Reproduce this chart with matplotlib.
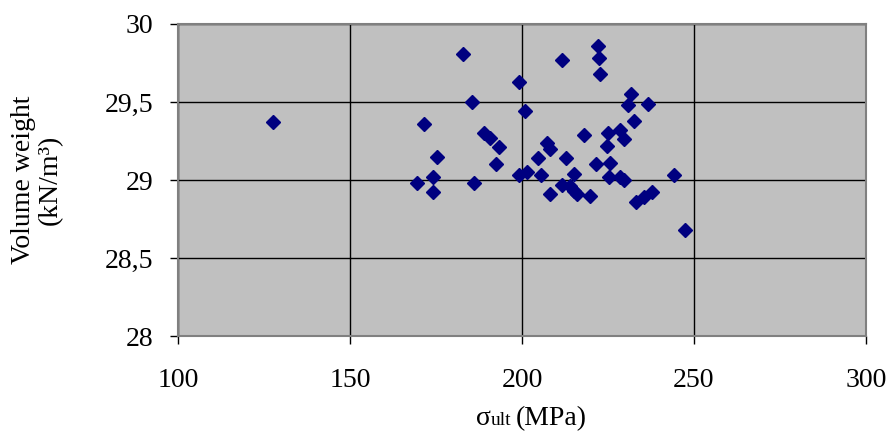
import matplotlib
matplotlib.use("Agg")
import matplotlib.pyplot as plt

# ultimate strength (MPa) vs volume weight (kN/m3)
sigma_ult = [127.6, 182.8, 199.0, 185.5, 200.8, 171.4, 188.9, 190.8, 193.4, 175.3,
             192.3, 174.1, 169.5, 174.0, 186.1, 199.0, 201.5, 211.7, 222.1, 222.5,
             222.8, 231.7, 230.8, 236.6, 232.5, 218.0, 225.0, 228.5, 229.6, 224.6,
             207.3, 208.1, 204.6, 212.9, 221.4, 225.5, 215.1, 205.4, 225.2, 228.6,
             229.6, 244.2, 211.6, 214.1, 215.0, 216.0, 208.1, 219.9, 233.0, 235.4,
             237.9, 247.3]
vol_weight = [29.37, 29.81, 29.63, 29.50, 29.44, 29.36, 29.30, 29.27, 29.21, 29.15,
              29.10, 29.02, 28.98, 28.92, 28.98, 29.03, 29.05, 29.77, 29.86, 29.78,
              29.68, 29.55, 29.48, 29.49, 29.38, 29.29, 29.30, 29.32, 29.26, 29.22,
              29.24, 29.20, 29.14, 29.14, 29.10, 29.11, 29.04, 29.03, 29.02, 29.02,
              29.00, 29.03, 28.97, 28.96, 28.93, 28.91, 28.91, 28.90, 28.86, 28.89,
              28.92, 28.68]

x_ticks = [100, 150, 200, 250, 300]
y_ticks = [28, 28.5, 29, 29.5, 30]
y_labels = ["28", "28,5", "29", "29,5", "30"]

plt.rcParams['font.family'] = ['Liberation Serif', 'DejaVu Serif']

fig = plt.figure(figsize=(8.92, 4.41), dpi=100)
ax = fig.add_axes([0.1996, 0.238, 0.7712, 0.7076])
ax.set_facecolor('#c0c0c0')

ax.plot(sigma_ult, vol_weight, ls='', marker='D', ms=7, color='#000080', zorder=3)

ax.set_xlim(100, 300)
ax.set_ylim(28, 30)
ax.set_xticks(x_ticks)
ax.set_yticks(y_ticks)
ax.set_yticklabels(y_labels)
ax.grid(True, color='black', lw=1.0)
ax.set_axisbelow(True)
for s in ax.spines.values():
    s.set_color('#808080')
    s.set_linewidth(1.5)
ax.tick_params(axis='both', labelsize=20, color='black', length=6, width=1)
ax.tick_params(axis='x', pad=17)
ax.tick_params(axis='y', pad=12)

ax.set_ylabel("Volume weight\n(kN/m³)", fontsize=20, labelpad=30, linespacing=1.1)

# x label: sigma full size, "ult" smaller on the same baseline, then (MPa)
base_y = -0.285
parts = [("σ", 20, 0), ("ult", 14, 0), ("(MPa)", 20, 4)]
renderer = fig.canvas.get_renderer()
x = 0.433
for txt, size, gap in parts:
    x += gap / ax.bbox.width
    t = ax.text(x, base_y, txt, transform=ax.transAxes, fontsize=size,
                ha='left', va='baseline')
    bb = t.get_window_extent(renderer)
    x = ax.transAxes.inverted().transform((bb.x1, bb.y0))[0]

fig.savefig("out.png", dpi=100)
